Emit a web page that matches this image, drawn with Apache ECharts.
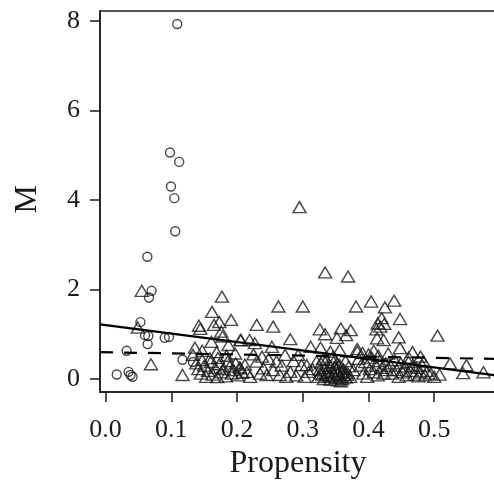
<!DOCTYPE html>
<html>
<head>
<meta charset="utf-8">
<script src="https://cdn.jsdelivr.net/npm/echarts@6/dist/echarts.min.js"></script>
<style>html,body{margin:0;padding:0;background:#fff;}#c{width:494px;height:480px;}</style>
</head>
<body>
<div id="c"></div>
<script>
// Circles (group 1): [propensity, M]
var circlePts = [
  [0.109,7.93],[0.098,5.06],[0.112,4.85],[0.0995,4.30],[0.1046,4.04],[0.106,3.30],
  [0.0635,2.73],[0.070,1.97],[0.066,1.82],[0.053,1.27],[0.060,0.98],[0.065,0.96],
  [0.064,0.78],[0.090,0.92],[0.0965,0.94],[0.032,0.63],[0.117,0.43],[0.133,0.38],
  [0.017,0.10],[0.035,0.16],[0.038,0.09],[0.041,0.05]
];
// Triangles (group 2): [propensity, M]
var trianglePts = [
  [0.055,1.97],[0.049,1.15],[0.069,0.33],[0.117,0.09],
  [0.177,1.84],[0.162,1.50],[0.142,1.19],[0.144,1.12],[0.165,1.21],[0.173,1.27],[0.191,1.32],
  [0.176,1.06],[0.178,0.95],[0.161,0.83],[0.205,0.87],[0.136,0.70],[0.133,0.54],[0.147,0.63],
  [0.159,0.46],[0.169,0.60],[0.187,0.76],[0.197,0.57],
  [0.138,0.35],[0.141,0.22],[0.145,0.12],[0.150,0.30],[0.153,0.05],[0.156,0.18],[0.160,0.38],
  [0.163,0.10],[0.167,0.25],[0.170,0.04],[0.173,0.33],[0.176,0.15],[0.180,0.22],[0.183,0.06],
  [0.186,0.40],[0.189,0.28],[0.192,0.12],[0.195,0.20],[0.198,0.35],[0.201,0.08],[0.204,0.26],
  [0.208,0.14],[0.212,0.32],[0.147,0.42],[0.171,0.47],[0.184,0.52],
  [0.263,1.62],[0.300,1.62],[0.230,1.21],[0.255,1.17],[0.281,0.89],[0.206,0.87],[0.219,0.87],
  [0.227,0.80],[0.253,0.72],[0.273,0.54],[0.293,0.54],[0.306,0.31],[0.205,0.24],[0.215,0.16],
  [0.230,0.39],[0.240,0.24],[0.245,0.09],[0.260,0.39],[0.265,0.09],[0.281,0.16],[0.298,0.31],
  [0.309,0.16],[0.321,0.39],[0.312,0.72],[0.225,0.55],[0.238,0.50],[0.248,0.45],[0.268,0.30],
  [0.286,0.40],[0.220,0.05],[0.235,0.12],[0.255,0.20],[0.275,0.05],[0.290,0.08],[0.303,0.05],
  [0.315,0.22],
  [0.295,3.84],[0.334,2.38],[0.369,2.29],
  [0.381,1.62],[0.326,1.11],[0.334,1.00],[0.358,1.13],[0.373,1.09],[0.352,0.92],[0.366,0.98],
  [0.327,0.70],[0.342,0.61],[0.356,0.65],[0.383,0.61],[0.377,0.20],
  [0.324,0.05],[0.326,0.20],[0.328,0.35],[0.330,0.10],[0.332,0.00],[0.334,0.25],[0.336,0.42],
  [0.337,0.08],[0.339,0.15],[0.341,0.30],[0.342,-0.02],[0.344,0.05],[0.345,0.18],[0.347,0.38],
  [0.348,0.10],[0.350,0.02],[0.351,0.24],[0.353,0.12],[0.354,-0.03],[0.356,0.32],[0.357,0.06],
  [0.359,0.15],[0.360,0.00],[0.362,0.22],[0.363,0.08],[0.365,0.40],[0.366,0.03],[0.368,0.14],
  [0.370,0.28],[0.372,0.05],[0.331,0.45],[0.346,0.50],[0.335,0.14],[0.352,0.35],[0.358,-0.05],
  [0.340,0.06],[0.361,0.18],[0.327,0.12],[0.349,0.26],[0.367,0.10],
  [0.404,1.73],[0.425,1.60],[0.439,1.75],[0.448,1.34],[0.414,1.24],[0.412,1.11],[0.418,1.17],
  [0.424,1.23],[0.413,0.91],[0.423,0.87],[0.420,1.36],[0.446,0.93],[0.408,0.63],[0.383,0.67],
  [0.428,0.20],[0.448,0.69],[0.467,0.60],[0.430,0.57],[0.461,0.48],[0.479,0.50],
  [0.385,0.45],[0.388,0.30],[0.392,0.12],[0.395,0.38],[0.398,0.05],[0.402,0.22],[0.405,0.48],
  [0.408,0.15],[0.411,0.30],[0.414,0.08],[0.417,0.40],[0.420,0.25],[0.423,0.12],[0.426,0.35],
  [0.415,0.52],[0.400,0.55],[0.391,0.58],
  [0.433,0.30],[0.436,0.12],[0.440,0.42],[0.443,0.20],[0.446,0.05],[0.449,0.35],[0.452,0.15],
  [0.455,0.28],[0.458,0.08],[0.461,0.38],[0.464,0.18],[0.467,0.30],[0.470,0.10],[0.473,0.25],
  [0.476,0.06],[0.479,0.15],[0.482,0.30],[0.486,0.08],[0.489,0.18],[0.484,0.39],
  [0.505,0.97],[0.524,0.35],[0.549,0.31],[0.575,0.15],[0.508,0.10],[0.544,0.13],[0.495,0.12],[0.500,0.05]
];
// Fitted lines (endpoints read at plot edges)
var lineX = [-0.0085, 0.594];
var solidY = [1.22, 0.08];
var dashedY = [0.60, 0.45];
// Tick labels
var xTicks = [0.0, 0.1, 0.2, 0.3, 0.4, 0.5];
var yTicks = [0, 2, 4, 6, 8];
var yTitle = 'M';

var font = '"Liberation Serif", "DejaVu Serif", serif';
var ink = '#1a1a1a';
var chart = echarts.init(document.getElementById('c'));
chart.setOption({
  animation: false,
  backgroundColor: '#fff',
  grid: { left: 100, top: 11, width: 396, height: 381, outerBoundsMode: 'none', containLabel: false,
    show: true, borderColor: ink, borderWidth: 1.5, backgroundColor: 'transparent' },
  graphic: [{
    type: 'text', left: 12, top: 185, rotation: Math.PI / 2, silent: true,
    style: { text: yTitle, font: '32px "Liberation Serif", serif', fill: ink }
  }],
  xAxis: {
    type: 'value', min: -0.0085, max: 0.594,
    name: 'Propensity', nameLocation: 'middle', nameGap: 56,
    nameTextStyle: { fontFamily: font, fontSize: 32, color: ink },
    axisLine: { show: true, onZero: false, lineStyle: { color: ink, width: 1.5 } },
    axisTick: { show: true, length: 10, inside: false, customValues: xTicks, lineStyle: { color: ink, width: 1.5 } },
    axisLabel: { customValues: xTicks, margin: 25, fontFamily: font, fontSize: 26, color: ink,
      formatter: function (v) { return v.toFixed(1); } },
    splitLine: { show: false }
  },
  yAxis: {
    type: 'value', min: -0.29, max: 8.22,
    axisLine: { show: true, onZero: false, lineStyle: { color: ink, width: 1.5 } },
    axisTick: { show: true, length: 10, inside: false, customValues: yTicks, lineStyle: { color: ink, width: 1.5 } },
    axisLabel: { customValues: yTicks, margin: 20, fontFamily: font, fontSize: 26, color: ink },
    splitLine: { show: false }
  },
  series: [
    { type: 'scatter', symbol: 'circle', symbolSize: 9, data: circlePts, silent: true,
      itemStyle: { color: 'rgba(0,0,0,0)', borderColor: ink, borderWidth: 1.4 } },
    { type: 'scatter', symbol: 'triangle', symbolSize: [13, 11], data: trianglePts, silent: true,
      itemStyle: { color: 'rgba(0,0,0,0)', borderColor: ink, borderWidth: 1.4 } },
    { type: 'line', data: lineX.map(function (x, i) { return [x, solidY[i]]; }), symbol: 'none', silent: true, z: 5,
      lineStyle: { color: '#000', width: 2.2, type: 'solid' } },
    { type: 'line', data: lineX.map(function (x, i) { return [x, dashedY[i]]; }), symbol: 'none', silent: true, z: 5,
      lineStyle: { color: '#000', width: 2.2, type: [13, 11] } }
  ]
});
</script>
</body>
</html>
